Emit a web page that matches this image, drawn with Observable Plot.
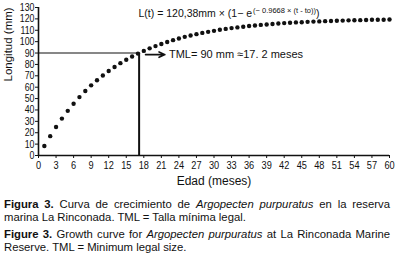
<!DOCTYPE html>
<html>
<head>
<meta charset="utf-8">
<script src="https://cdn.jsdelivr.net/npm/d3@7"></script>
<script src="https://cdn.jsdelivr.net/npm/@observablehq/plot@0.6"></script>
<style>
  body { margin: 0; background: #fff; width: 396px; overflow: hidden; }
  #chart svg { display: block; }
  .cap { font-family: "Liberation Sans", Arial, sans-serif; font-size: 11.3px; color: #111; margin: 0 6px 0 4px; line-height: 13.4px; }
  .cap .j { text-align: justify; text-align-last: justify; }
  .cap b { font-weight: bold; }
</style>
</head>
<body>
<div id="chart"></div>
<div class="cap" style="margin-top:8px">
  <div class="j"><b>Figura 3.</b> Curva de crecimiento de <i>Argopecten purpuratus</i> en la reserva</div>
  <div>marina La Rinconada. TML = Talla mínima legal.</div>
</div>
<div class="cap" style="margin-top:3px">
  <div class="j"><b>Figure 3.</b> Growth curve for <i>Argopecten purpuratus</i> at La Rinconada Marine</div>
  <div>Reserve. TML = Minimum legal size.</div>
</div>
<script>
// Age in months
const ages = [1,2,3,4,5,6,7,8,9,10,11,12,13,14,15,16,17,18,19,20,21,22,23,24,25,26,27,28,29,30,
  31,32,33,34,35,36,37,38,39,40,41,42,43,44,45,46,47,48,49,50,51,52,53,54,55,56,57,58,59,60];
// Length (mm)
const lengths = [8.3,17.0,25.0,32.4,39.2,45.5,51.3,56.6,61.6,66.1,70.3,74.2,77.8,81.1,84.1,86.9,89.5,91.9,94.1,96.1,
  98.0,99.7,101.3,102.8,104.2,105.4,106.6,107.7,108.6,109.5,110.4,111.2,111.9,112.5,113.1,113.7,114.2,114.7,115.1,115.5,
  115.9,116.3,116.6,116.9,117.1,117.4,117.6,117.8,118.0,118.2,118.4,118.5,118.7,118.8,118.9,119.0,119.2,119.3,119.3,119.4];
const xTicks = [0,3,6,9,12,15,18,21,24,27,30,33,36,39,42,45,48,51,54,57,60];
const yTicks = [0,10,20,30,40,50,60,70,80,90,100,110,120,130];
const tmlLength = 90;
const tmlAge = 17.2;
const tmlLabel = "TML= 90 mm ≈17. 2 meses";
const eqMain = "L(t) = 120,38mm × (1− e";
const eqExp = "(− 0.9668 × (t - to))";
const eqEnd = ")";
const xLabel = "Edad (meses)";
const yLabel = "Longitud (mm)";

const data = ages.map((a, i) => ({age: a, len: lengths[i]}));
const sans = '"Liberation Sans", Arial, sans-serif';

const chart = Plot.plot({
  width: 396,
  height: 190,
  marginLeft: 38,
  marginRight: 7,
  marginTop: 7,
  marginBottom: 35,
  style: {fontFamily: sans, fontSize: "11px", color: "#111", background: "#fff"},
  x: {domain: [0, 60]},
  y: {domain: [0, 130]},
  marks: [
    Plot.axisX({ticks: xTicks, tickSize: 3, tickPadding: 2, label: null, fontSize: 11.5}),
    Plot.axisY({ticks: yTicks, tickSize: 3, tickPadding: 1, label: null, fontSize: 11}),
    Plot.text([xLabel], {frameAnchor: "bottom", fontFamily: sans, fontSize: 12, fill: "#111", lineAnchor: "bottom", dy: 29}),
    Plot.text([yLabel], {frameAnchor: "left", rotate: -90, dx: -30, fontFamily: sans, fontSize: 11.5, fill: "#111"}),
    Plot.ruleY([0], {stroke: "#111", strokeWidth: 1.6}),
    Plot.ruleX([0], {stroke: "#111", strokeWidth: 1.6}),
    Plot.ruleY([tmlLength], {x1: 0, x2: tmlAge, stroke: "#111", strokeWidth: 1.1}),
    Plot.ruleX([tmlAge], {y1: 0, y2: tmlLength, stroke: "#111", strokeWidth: 2}),
    Plot.dot(data, {x: "age", y: "len", r: 2.2, fill: "#111", stroke: null}),
    Plot.arrow([{x1: 18.3, x2: 21.6, y: 88.6}], {x1: "x1", x2: "x2", y1: "y", y2: "y", stroke: "#111", strokeWidth: 1.6, headLength: 6, headAngle: 50}),
    Plot.text([tmlLabel], {x: 22.3, y: 88.6, textAnchor: "start", fontSize: 11, fill: "#111"}),
    Plot.text([eqMain], {
      x: 17.1, y: 124.2, textAnchor: "start", fontSize: 10.5, fill: "#111",
      render(index, scales, values, dims, context, next) {
        const g = next(index, scales, values, dims, context);
        const t = g.querySelector("text");
        if (t) {
          const ns = "http://www.w3.org/2000/svg";
          const sup = document.createElementNS(ns, "tspan");
          sup.textContent = eqExp;
          sup.setAttribute("font-size", "7.5");
          sup.setAttribute("dy", "-4");
          sup.setAttribute("dx", "1");
          const end = document.createElementNS(ns, "tspan");
          end.textContent = eqEnd;
          end.setAttribute("dy", "4");
          t.appendChild(sup);
          t.appendChild(end);
        }
        return g;
      }
    })
  ]
});
document.getElementById("chart").appendChild(chart);
// condense tick labels (the reference uses a narrow typeface)
d3.select(chart).selectAll("g[aria-label='x-axis tick label'] text, g[aria-label='y-axis tick label'] text")
  .each(function() {
    const w = this.getComputedTextLength();
    this.setAttribute("textLength", (w * 0.8).toFixed(2));
    this.setAttribute("lengthAdjust", "spacingAndGlyphs");
  });
</script>
</body>
</html>
